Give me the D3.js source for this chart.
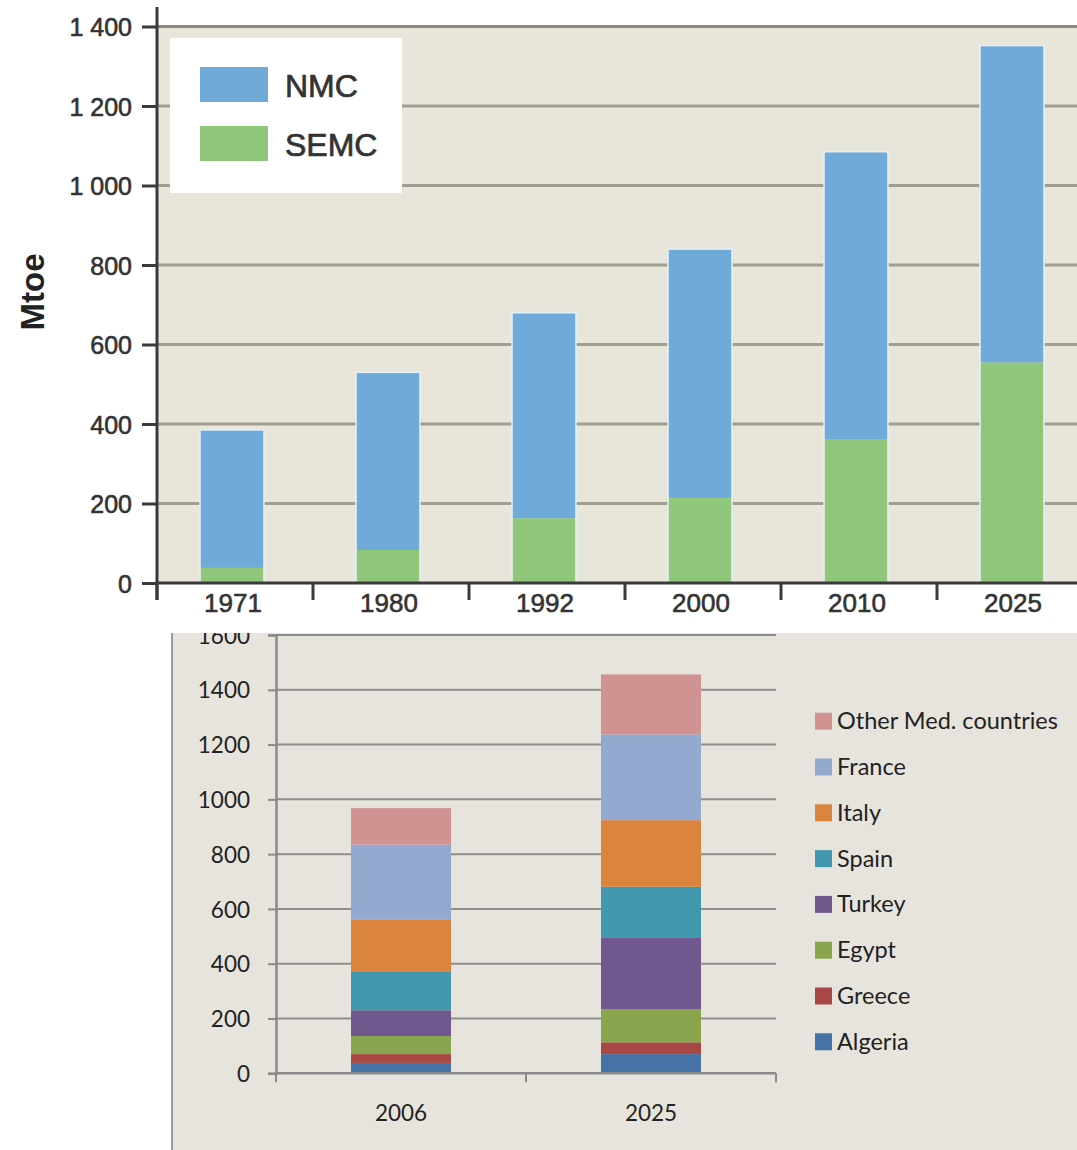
<!DOCTYPE html>
<html>
<head>
<meta charset="utf-8">
<script src="https://cdn.jsdelivr.net/npm/d3@7"></script>
<style>
  html, body { margin: 0; padding: 0; background: #ffffff; }
  svg { display: block; }
</style>
</head>
<body>
<svg id="chart" width="1077" height="1150"></svg>
<script>
// ---- Primary energy demand, NMC vs SEMC (Mtoe) ----
const regionYears = ["1971", "1980", "1992", "2000", "2010", "2025"];
const semc = [38, 83, 163, 214, 362, 555];
const nmc = [347, 447, 517, 626, 723, 797];
const regionTicks = [0, 200, 400, 600, 800, 1000, 1200, 1400];
const regionNames = ["NMC", "SEMC"];

// ---- Demand by country ----
const countryYears = ["2006", "2025"];
const algeria = [38, 70];
const greece = [32, 43];
const egypt = [66, 120];
const turkey = [94, 261];
const spain = [140, 187];
const italy = [190, 243];
const france = [275, 313];
const otherMed = [133, 219];
const countryNames = ["Algeria", "Greece", "Egypt", "Turkey", "Spain", "Italy", "France", "Other Med. countries"];
const countryTicks = [0, 200, 400, 600, 800, 1000, 1200, 1400, 1600];

const svg = d3.select("#chart");

/* ============ upper chart ============ */
const upper = svg.append("g");
const regionColors = { NMC: "#70aad9", SEMC: "#90c77a" };
const axisInk = "#3a3a3a";
const grid1 = "#a29d91";

const x1 = d3.scaleBand().domain(regionYears).range([157, 1093])
  .paddingInner(0.59).paddingOuter(0.295);
const y1 = d3.scaleLinear().domain([0, 1400]).range([583, 26.5]);
const fmt1 = d3.formatLocale({ decimal: ".", thousands: " ", grouping: [3], currency: ["", ""] }).format(",d");

// plot background
upper.append("rect").attr("x", 157).attr("y", y1(1400)).attr("width", 1077 - 157).attr("height", y1(0) - y1(1400))
  .attr("fill", "#e8e5da");

// gridlines
upper.append("g").selectAll("line").data(regionTicks.filter(d => d > 0)).join("line")
  .attr("x1", 157).attr("x2", 1077).attr("y1", d => y1(d)).attr("y2", d => y1(d))
  .attr("stroke", d => d === 1400 ? "#8d877c" : grid1).attr("stroke-width", 3);

// stacked bars
const regionRows = regionYears.map((yr, i) => ({ year: yr, SEMC: semc[i], NMC: nmc[i] }));
const stack1 = d3.stack().keys(["SEMC", "NMC"])(regionRows);
upper.append("g").selectAll("g").data(stack1).join("g")
  .attr("fill", s => regionColors[s.key])
  .selectAll("rect").data(s => s).join("rect")
  .attr("x", d => x1(d.data.year) - 3)
  .attr("width", x1.bandwidth())
  .attr("y", d => y1(d[1]))
  .attr("height", d => y1(d[0]) - y1(d[1]));
// light halo around each bar
upper.append("g").selectAll("rect").data(regionRows).join("rect")
  .attr("x", d => x1(d.year) - 3).attr("width", x1.bandwidth())
  .attr("y", d => y1(d.SEMC + d.NMC)).attr("height", d => y1(0) - y1(d.SEMC + d.NMC))
  .attr("fill", "none").attr("stroke", "#e3f1f6").attr("stroke-width", 1.5);

// y axis
const yAxis1 = upper.append("g").attr("transform", "translate(157,0)")
  .call(d3.axisLeft(y1).tickValues(regionTicks).tickSize(15).tickPadding(10).tickFormat(fmt1));
yAxis1.select(".domain").remove();
yAxis1.selectAll(".tick line").attr("stroke", axisInk).attr("stroke-width", 3);
yAxis1.selectAll(".tick text").attr("fill", "#333").attr("font-family", "Liberation Sans, Arial, sans-serif")
  .attr("font-size", 25).attr("stroke", "#333").attr("stroke-width", 0.6).attr("dy", "0.36em");
upper.append("line").attr("x1", 157).attr("x2", 157).attr("y1", 7).attr("y2", 600)
  .attr("stroke", axisInk).attr("stroke-width", 3);

// x axis line and category boundary ticks
upper.append("line").attr("x1", 157).attr("x2", 1077).attr("y1", y1(0)).attr("y2", y1(0))
  .attr("stroke", axisInk).attr("stroke-width", 3);
upper.append("g").selectAll("line").data(regionYears).join("line")
  .attr("x1", d => x1(d) - x1.step() * x1.paddingOuter())
  .attr("x2", d => x1(d) - x1.step() * x1.paddingOuter())
  .attr("y1", y1(0)).attr("y2", 600)
  .attr("stroke", axisInk).attr("stroke-width", 3);
upper.append("g").selectAll("text").data(regionYears).join("text")
  .attr("x", d => x1(d) + x1.bandwidth() / 2 - 2).attr("y", 612)
  .attr("text-anchor", "middle").attr("fill", "#333")
  .attr("font-family", "Liberation Sans, Arial, sans-serif").attr("font-size", 26)
  .attr("stroke", "#333").attr("stroke-width", 0.6)
  .text(d => d);

// y title
upper.append("text").attr("transform", "translate(44,292) rotate(-90)")
  .attr("text-anchor", "middle").attr("fill", "#222")
  .attr("font-family", "Liberation Sans, Arial, sans-serif").attr("font-size", 33).attr("font-weight", "bold")
  .text("Mtoe");

// legend
const leg1 = upper.append("g");
leg1.append("rect").attr("x", 170).attr("y", 38).attr("width", 232).attr("height", 155).attr("fill", "#ffffff");
leg1.selectAll("g").data(regionNames).join("g")
  .attr("transform", (d, i) => `translate(200,${67 + i * 59})`)
  .each(function (d) {
    const g = d3.select(this);
    g.append("rect").attr("width", 68).attr("height", 35).attr("fill", regionColors[d]);
    g.append("text").attr("x", 85).attr("y", 30).attr("fill", "#333")
      .attr("font-family", "Liberation Sans, Arial, sans-serif").attr("font-size", 32)
      .attr("stroke", "#333").attr("stroke-width", 0.7)
      .text(d);
  });

/* ============ lower chart ============ */
const lower = svg.append("g");
const countryColors = ["#4572a7", "#aa4643", "#89a54e", "#71588f", "#4198af", "#db843d", "#93a9cf", "#d19392"];
const lowerFont = "Lato, 'Open Sans', sans-serif";

lower.append("rect").attr("x", 172).attr("y", 633).attr("width", 1077 - 172).attr("height", 1150 - 633)
  .attr("fill", "#e7e4dd");
lower.append("line").attr("x1", 172).attr("x2", 172).attr("y1", 633).attr("y2", 1150)
  .attr("stroke", "#9a9a9a").attr("stroke-width", 2);

const x2 = d3.scaleBand().domain(countryYears).range([276, 776]).paddingInner(0.6).paddingOuter(0.3);
const y2 = d3.scaleLinear().domain([0, 1600]).range([1073.3, 635]);

const clip = lower.append("clipPath").attr("id", "panel-clip");
clip.append("rect").attr("x", 172).attr("y", 633).attr("width", 905).attr("height", 517);
const inner = lower.append("g").attr("clip-path", "url(#panel-clip)");

// gridlines
inner.append("g").selectAll("line").data(countryTicks.filter(d => d > 0)).join("line")
  .attr("x1", 276).attr("x2", 776).attr("y1", d => y2(d)).attr("y2", d => y2(d))
  .attr("stroke", "#8e8e8e").attr("stroke-width", 2);

// stacked bars
const countrySeries = [algeria, greece, egypt, turkey, spain, italy, france, otherMed];
const countryRows = countryYears.map((yr, i) => {
  const row = { year: yr };
  countryNames.forEach((n, k) => { row[n] = countrySeries[k][i]; });
  return row;
});
const stack2 = d3.stack().keys(countryNames)(countryRows);
inner.append("g").selectAll("g").data(stack2).join("g")
  .attr("fill", (s, k) => countryColors[k])
  .selectAll("rect").data(s => s).join("rect")
  .attr("x", d => x2(d.data.year))
  .attr("width", x2.bandwidth())
  .attr("y", d => y2(d[1]))
  .attr("height", d => y2(d[0]) - y2(d[1]));

// y axis
const yAxis2 = inner.append("g").attr("transform", "translate(276,0)")
  .call(d3.axisLeft(y2).tickValues(countryTicks).tickSize(8).tickPadding(18).tickFormat(d3.format("d")));
yAxis2.select(".domain").attr("stroke", "#8a8a8a").attr("stroke-width", 2.5);
yAxis2.selectAll(".tick line").attr("stroke", "#8a8a8a").attr("stroke-width", 2);
yAxis2.selectAll(".tick text").attr("fill", "#222").attr("font-family", lowerFont).attr("font-size", 22.5)
  .attr("dy", "0.36em");

// x axis
inner.append("line").attr("x1", 276).attr("x2", 776).attr("y1", y2(0)).attr("y2", y2(0))
  .attr("stroke", "#8a8a8a").attr("stroke-width", 2.5);
const xEdges = [x2.range()[0]].concat(countryYears.map(d => x2(d) + x2.bandwidth() + x2.step() * x2.paddingOuter()));
inner.append("g").selectAll("line").data(xEdges).join("line")
  .attr("x1", d => d).attr("x2", d => d).attr("y1", y2(0)).attr("y2", y2(0) + 9)
  .attr("stroke", "#8a8a8a").attr("stroke-width", 2);
inner.append("g").selectAll("text").data(countryYears).join("text")
  .attr("x", d => x2(d) + x2.bandwidth() / 2).attr("y", 1121)
  .attr("text-anchor", "middle").attr("fill", "#222")
  .attr("font-family", lowerFont).attr("font-size", 22.5)
  .text(d => d);

// legend (top entry is the last stacked series)
const leg2 = lower.append("g");
leg2.selectAll("g").data(countryNames.slice().reverse()).join("g")
  .attr("transform", (d, i) => `translate(815,${712.7 + i * 45.8})`)
  .each(function (d) {
    const g = d3.select(this);
    g.append("rect").attr("width", 17).attr("height", 17)
      .attr("fill", countryColors[countryNames.indexOf(d)]);
    g.append("text").attr("x", 22).attr("y", 16.5).attr("fill", "#222")
      .attr("font-family", lowerFont).attr("font-size", 23.5)
      .text(d);
  });
</script>
</body>
</html>
